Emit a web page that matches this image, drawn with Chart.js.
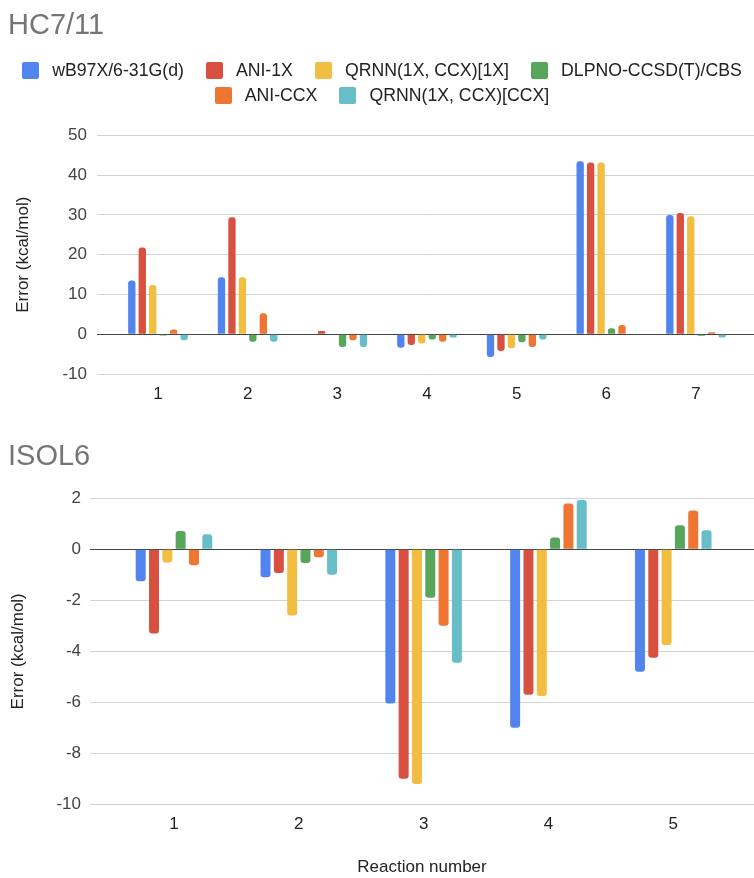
<!DOCTYPE html>
<html>
<head>
<meta charset="utf-8">
<title>HC7/11 and ISOL6 reaction errors</title>
<script src="https://cdn.jsdelivr.net/npm/chart.js@4.4.1/dist/chart.umd.min.js"></script>
<style>
  html, body { margin: 0; padding: 0; background: #ffffff; }
  #wrap { position: relative; width: 754px; height: 878px; overflow: hidden; }
  .panel { position: absolute; left: 0; width: 754px; }
  #topPanel { top: 0; height: 420px; }
  #botPanel { top: 420px; height: 458px; }
  #legend {
    position: absolute; left: 10px; width: 744px; top: 58px;
    display: flex; flex-wrap: wrap; justify-content: center; column-gap: 22px;
    font: 17.7px 'Liberation Sans', Arial, sans-serif; color: #222222;
  }
  #legend .item { display: flex; align-items: center; height: 25px; white-space: nowrap; }
  #legend .box { width: 17px; height: 17px; border-radius: 2px; margin-right: 13px; }
</style>
</head>
<body>
<div id="wrap">
  <div class="panel" id="topPanel"><canvas id="hcChart"></canvas><div id="legend"></div></div>
  <div class="panel" id="botPanel"><canvas id="isolChart"></canvas></div>
</div>
<script>
// Methods compared (legend order) and their colours
const seriesNames = ['wB97X/6-31G(d)', 'ANI-1X', 'QRNN(1X, CCX)[1X]', 'DLPNO-CCSD(T)/CBS', 'ANI-CCX', 'QRNN(1X, CCX)[CCX]'];
const seriesColors = ['#5284ED', '#D8503F', '#F1BE42', '#58A65C', '#EE7632', '#67BEC6'];

// HC7/11 errors (kcal/mol) per reaction
const hcReactions = [1, 2, 3, 4, 5, 6, 7];
const hcWb97x   = [13.5, 14.3, 0.0, -3.4, -5.7, 43.5, 30.0];
const hcAni1x   = [21.8, 29.4, 0.8, -2.7, -4.2, 43.2, 30.5];
const hcQrnn1x  = [12.4, 14.3, 0.0, -2.3, -3.5, 43.2, 29.7];
const hcDlpno   = [-0.3, -1.9, -3.2, -1.3, -2.0, 1.5, -0.4];
const hcAniCcx  = [1.2, 5.3, -1.5, -1.9, -3.2, 2.3, 0.5];
const hcQrnnCcx = [-1.5, -1.9, -3.2, -0.8, -1.3, 0.1, -0.8];
const hcTicks   = [-10, 0, 10, 20, 30, 40, 50];

// ISOL6 errors (kcal/mol) per reaction
const isolReactions = [1, 2, 3, 4, 5];
const isolWb97x   = [-1.25, -1.1, -6.05, -7.0, -4.8];
const isolAni1x   = [-3.3, -0.93, -9.0, -5.7, -4.25];
const isolQrnn1x  = [-0.52, -2.6, -9.2, -5.75, -3.75];
const isolDlpno   = [0.72, -0.54, -1.9, 0.46, 0.94];
const isolAniCcx  = [-0.63, -0.31, -3.0, 1.8, 1.52];
const isolQrnnCcx = [0.59, -1.0, -4.45, 1.93, 0.75];
const isolTicks   = [-10, -8, -6, -4, -2, 0, 2];

const FONT = "'Liberation Sans', Arial, sans-serif";

// Legend built as HTML from the chart's own legend items
const htmlLegend = {
  id: 'htmlLegend',
  afterUpdate(chart, args, opts) {
    const host = document.getElementById(opts.containerID);
    if (!host) return;
    host.innerHTML = '';
    const items = chart.options.plugins.legend.labels.generateLabels(chart);
    items.forEach(item => {
      const el = document.createElement('div');
      el.className = 'item';
      const box = document.createElement('span');
      box.className = 'box';
      box.style.background = item.fillStyle;
      const txt = document.createElement('span');
      txt.textContent = item.text;
      el.append(box, txt);
      host.appendChild(el);
    });
  }
};

function buildDatasets(seriesValues, catPct, barPct) {
  return seriesValues.map((values, i) => ({
    label: seriesNames[i],
    data: values,
    backgroundColor: seriesColors[i],
    borderWidth: 0,
    borderRadius: 3,
    borderSkipped: 'start',
    categoryPercentage: catPct,
    barPercentage: barPct
  }));
}

function makeChart(canvasId, cfg) {
  return new Chart(document.getElementById(canvasId), {
    type: 'bar',
    data: {
      labels: cfg.labels,
      datasets: buildDatasets(cfg.series, cfg.catPct, cfg.barPct)
    },
    plugins: cfg.plugins || [],
    options: {
      responsive: true,
      maintainAspectRatio: false,
      animation: false,
      layout: { padding: { left: 8, right: 0, top: 0, bottom: 0 } },
      plugins: {
        legend: { display: false },
        tooltip: { enabled: false },
        title: {
          display: true,
          text: cfg.title,
          align: 'start',
          color: '#757575',
          font: { family: FONT, size: 29, weight: 'normal' },
          padding: cfg.titlePad
        },
        htmlLegend: { containerID: cfg.legendId || null }
      },
      scales: {
        x: {
          type: 'linear',
          min: cfg.xMin,
          max: cfg.xMax,
          offset: false,
          grid: { display: false, drawTicks: false },
          border: { display: false },
          ticks: {
            padding: cfg.xTickPad,
            color: '#222222',
            font: { family: FONT, size: 17 },
            callback: v => String(v)
          },
          afterBuildTicks: s => { s.ticks = cfg.labels.map(v => ({ value: v })); },
          afterFit: s => { s.height = cfg.xHeight; },
          title: cfg.xTitle ? {
            display: true,
            text: cfg.xTitle,
            color: '#222222',
            font: { family: FONT, size: 17 },
            padding: { top: 0, bottom: 0 }
          } : { display: false }
        },
        y: {
          min: cfg.yTicks[0],
          max: cfg.yTicks[cfg.yTicks.length - 1],
          grid: {
            drawTicks: false,
            lineWidth: 1,
            color: c => (c.tick && c.tick.value === 0) ? '#444444' : '#d4d4d4'
          },
          border: { display: false },
          afterBuildTicks: s => { s.ticks = cfg.yTicks.map(v => ({ value: v })); },
          ticks: {
            padding: cfg.yTickPad,
            color: '#444444',
            font: { family: FONT, size: 17 }
          },
          afterFit: s => { s.width = cfg.yWidth; },
          title: {
            display: true,
            text: 'Error (kcal/mol)',
            color: '#222222',
            font: { family: FONT, size: 17 },
            padding: { top: cfg.yTitlePad, bottom: 0 }
          }
        }
      }
    }
  });
}

makeChart('hcChart', {
  title: 'HC7/11',
  titlePad: { top: 9, bottom: 91.6 },
  labels: hcReactions,
  series: [hcWb97x, hcAni1x, hcQrnn1x, hcDlpno, hcAniCcx, hcQrnnCcx],
  catPct: 0.70, barPct: 0.70,
  xMin: 0.32, xMax: 7.647,
  xTickPad: 10, xHeight: 46,
  yTicks: hcTicks, yWidth: 89, yTickPad: 10, yTitlePad: 5,
  plugins: [htmlLegend], legendId: 'legend'
});

makeChart('isolChart', {
  title: 'ISOL6',
  titlePad: { top: 19.5, bottom: 24 },
  labels: isolReactions,
  series: [isolWb97x, isolAni1x, isolQrnn1x, isolDlpno, isolAniCcx, isolQrnnCcx],
  catPct: 0.64, barPct: 0.75,
  xMin: 0.327, xMax: 5.647,
  xTickPad: 9.5, xHeight: 73.7, xTitle: 'Reaction number',
  yTicks: isolTicks, yWidth: 82, yTickPad: 9, yTitlePad: 0
});
</script>
</body>
</html>
